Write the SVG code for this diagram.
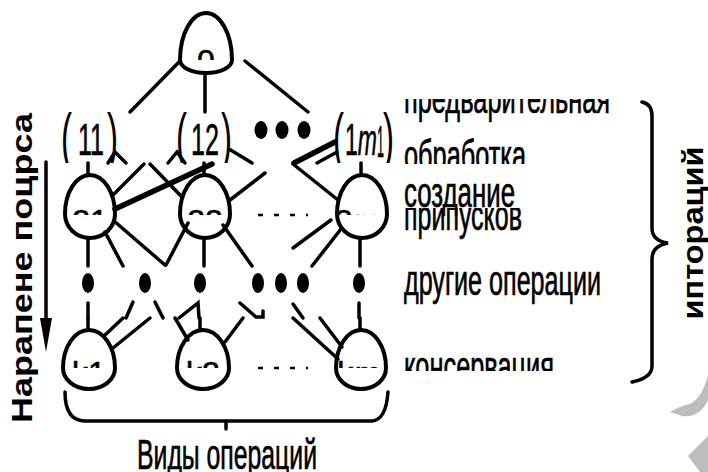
<svg xmlns="http://www.w3.org/2000/svg" width="708" height="472" viewBox="0 0 708 472">
<style>
.ln{stroke:#000;stroke-width:3.5;fill:none;stroke-linecap:round}
.thk{stroke:#000;stroke-width:5.5;fill:none;stroke-linecap:round}
.egg{stroke:#000;stroke-width:4;fill:none}
.dot{fill:#000}
.lbl{font-family:"Liberation Sans",Arial,sans-serif;font-size:42px;fill:#000;stroke:#000;stroke-width:0.7}
.num{font-family:"Liberation Sans",Arial,sans-serif;font-size:45px;fill:#000;stroke:#000;stroke-width:0.6}
.par{font-family:"Liberation Sans",Arial,sans-serif;font-size:64px;fill:#000}
.in{font-family:"Liberation Sans",Arial,sans-serif;font-size:32px;fill:#000;text-anchor:middle;stroke:#000;stroke-width:0.6}
.vt{font-family:"Liberation Sans",Arial,sans-serif;font-weight:bold;font-size:29px;fill:#000;text-anchor:middle}
.dash{stroke:#000;stroke-width:2.5;stroke-dasharray:5 11;fill:none}
</style>
<defs>
<clipPath id="c60"><rect x="0" y="0" width="708" height="60"/></clipPath>
<clipPath id="cRow1"><rect x="0" y="112" width="708" height="51"/></clipPath>
<clipPath id="c215"><rect x="0" y="0" width="708" height="215"/></clipPath>
<clipPath id="c368"><rect x="0" y="0" width="708" height="368"/></clipPath>
<clipPath id="cPre"><rect x="0" y="99" width="708" height="30"/></clipPath>
<clipPath id="cObr"><rect x="0" y="0" width="708" height="164"/></clipPath>
<clipPath id="cPri"><rect x="0" y="208" width="708" height="40"/></clipPath>
<clipPath id="cKon"><rect x="0" y="0" width="708" height="371"/></clipPath>
</defs>
<rect width="708" height="472" fill="#fff"/>

<g id="n0">
<path class="egg" d="M180,60 A26,47 0 0 1 232,60 A26,13 0 0 1 180,60"/>
<text class="in" x="206" y="72" font-size="30" clip-path="url(#c60)">0</text>
</g>

<g id="n11" clip-path="url(#cRow1)">
<text class="par" x="61" y="159" textLength="11" lengthAdjust="spacingAndGlyphs">(</text>
<text class="num" x="78" y="155" textLength="26" lengthAdjust="spacingAndGlyphs">11</text>
<text class="par" x="107" y="159" textLength="11" lengthAdjust="spacingAndGlyphs">)</text>
</g>
<g id="n12" clip-path="url(#cRow1)">
<text class="par" x="176" y="159" textLength="11" lengthAdjust="spacingAndGlyphs">(</text>
<text class="num" x="191" y="155" textLength="28" lengthAdjust="spacingAndGlyphs">12</text>
<text class="par" x="221" y="159" textLength="11" lengthAdjust="spacingAndGlyphs">)</text>
</g>
<g id="n1dots">
<ellipse class="dot" cx="261" cy="130" rx="6.5" ry="9"/>
<ellipse class="dot" cx="282" cy="130" rx="6.5" ry="9"/>
<ellipse class="dot" cx="304" cy="130" rx="6.5" ry="9"/>
</g>
<g id="n1m" clip-path="url(#cRow1)">
<text class="par" x="333" y="159" textLength="11" lengthAdjust="spacingAndGlyphs">(</text>
<text class="num" x="345" y="155" textLength="32" lengthAdjust="spacingAndGlyphs">1<tspan font-style="italic">m</tspan></text>
<text class="num" x="377" y="157" font-size="20" textLength="7" lengthAdjust="spacingAndGlyphs">1</text>
<text class="par" x="383" y="159" textLength="11" lengthAdjust="spacingAndGlyphs">)</text>
</g>

<g id="n21">
<path class="egg" d="M65,214 A25,39 0 0 1 115,214 A25,24 0 0 1 65,214"/>
<text class="in" x="90" y="232" clip-path="url(#c215)">21</text>
</g>
<g id="n22">
<path class="egg" d="M180,214 A25,39 0 0 1 230,214 A25,24 0 0 1 180,214"/>
<text class="in" x="205" y="232" clip-path="url(#c215)">22</text>
</g>
<g id="n2m">
<path class="egg" d="M337,214 A25,39 0 0 1 387,214 A25,24 0 0 1 337,214"/>
<text class="in" x="362" y="232" clip-path="url(#c215)">2<tspan font-style="italic">m</tspan><tspan font-size="18">2</tspan></text>
</g>

<g id="n3dots">
<ellipse class="dot" cx="88" cy="283" rx="6" ry="10"/>
<ellipse class="dot" cx="145" cy="283" rx="6" ry="10"/>
<ellipse class="dot" cx="200" cy="283" rx="6" ry="10"/>
<ellipse class="dot" cx="258" cy="283" rx="6" ry="10"/>
<ellipse class="dot" cx="281" cy="283" rx="6" ry="10"/>
<ellipse class="dot" cx="303" cy="283" rx="6" ry="10"/>
<ellipse class="dot" cx="359" cy="283" rx="6" ry="10"/>
</g>

<g id="nk1">
<path class="egg" d="M63,368 A26,38 0 0 1 115,368 A26,21 0 0 1 63,368"/>
<text class="in" x="89" y="384" clip-path="url(#c368)">k1</text>
</g>
<g id="nk2">
<path class="egg" d="M177,368 A26,38 0 0 1 229,368 A26,21 0 0 1 177,368"/>
<text class="in" x="203" y="384" clip-path="url(#c368)">k2</text>
</g>
<g id="nkm">
<path class="egg" d="M336,368 A25,38 0 0 1 386,368 A25,21 0 0 1 336,368"/>
<text class="in" x="363" y="384" clip-path="url(#c368)">k<tspan font-style="italic">m</tspan><tspan font-size="18">k</tspan></text>
</g>

<g id="connectors">
<line class="ln" x1="180" y1="61" x2="130" y2="112"/>
<line class="ln" x1="205" y1="73" x2="205" y2="112"/>
<line class="ln" x1="245" y1="61" x2="308" y2="112"/>

<path class="ln" d="M108,163 L115,152 L126,163"/>
<path class="ln" d="M168,163 L177,152 L185,163"/>
<line class="ln" x1="229" y1="149" x2="252" y2="163"/>
<line class="thk" x1="335" y1="142" x2="294" y2="163"/>
<line class="ln" x1="337" y1="152" x2="317" y2="163"/>

<line class="ln" x1="88" y1="163" x2="88" y2="175"/>
<line class="ln" x1="144" y1="164" x2="114" y2="194"/>
<line class="thk" x1="115" y1="209" x2="212" y2="164"/>
<line class="ln" x1="150" y1="164" x2="182" y2="197"/>
<line class="ln" x1="204" y1="163" x2="204" y2="175"/>
<line class="ln" x1="230" y1="200" x2="265" y2="173"/>
<line class="ln" x1="293" y1="164" x2="338" y2="200"/>
<line class="ln" x1="361" y1="163" x2="361" y2="175"/>
<line class="dash" x1="258" y1="215" x2="308" y2="215"/>

<line class="ln" x1="88" y1="238" x2="88" y2="266"/>
<line class="ln" x1="105" y1="232" x2="123" y2="266"/>
<line class="ln" x1="114" y1="221" x2="165" y2="265"/>
<line class="ln" x1="188" y1="223" x2="166" y2="265"/>
<line class="ln" x1="204" y1="238" x2="204" y2="266"/>
<line class="ln" x1="223" y1="225" x2="252" y2="266"/>
<line class="ln" x1="331" y1="220" x2="293" y2="248"/>
<line class="ln" x1="341" y1="229" x2="312" y2="266"/>
<line class="ln" x1="360" y1="238" x2="360" y2="266"/>

<line class="ln" x1="88" y1="303" x2="88" y2="318"/>
<line class="ln" x1="133" y1="302" x2="126" y2="318"/>
<line class="ln" x1="155" y1="302" x2="163" y2="318"/>
<path class="ln" d="M179,318 L198,303 L199,318"/>
<path class="ln" d="M240,303 L256,317 L263,317 L263,311"/>
<line class="ln" x1="293" y1="304" x2="303" y2="318"/>
<line class="ln" x1="359" y1="303" x2="359" y2="318"/>

<line class="ln" x1="88" y1="318" x2="88" y2="330"/>
<line class="ln" x1="123" y1="318" x2="104" y2="336"/>
<line class="ln" x1="150" y1="318" x2="113" y2="348"/>
<line class="ln" x1="175" y1="318" x2="188" y2="340"/>
<line class="ln" x1="200" y1="318" x2="200" y2="330"/>
<line class="ln" x1="243" y1="318" x2="225" y2="342"/>
<line class="ln" x1="293" y1="318" x2="338" y2="359"/>
<line class="ln" x1="320" y1="318" x2="342" y2="347"/>
<line class="ln" x1="360" y1="318" x2="360" y2="330"/>
<line class="dash" x1="258" y1="368" x2="308" y2="368"/>
</g>

<g id="labels">
<text class="lbl" x="404" y="113" textLength="206" lengthAdjust="spacingAndGlyphs" clip-path="url(#cPre)">предварительная</text>
<text class="lbl" x="404" y="170" textLength="122" lengthAdjust="spacingAndGlyphs" clip-path="url(#cObr)">обработка</text>
<text class="lbl" x="404" y="207" textLength="111" lengthAdjust="spacingAndGlyphs">создание</text>
<text class="lbl" x="404" y="230" textLength="118" lengthAdjust="spacingAndGlyphs" clip-path="url(#cPri)">припусков</text>
<text class="lbl" x="404" y="295" textLength="197" lengthAdjust="spacingAndGlyphs">другие операции</text>
<text class="lbl" x="404" y="381" textLength="150" lengthAdjust="spacingAndGlyphs" clip-path="url(#cKon)">консервация</text>
<text class="lbl" x="137" y="469" textLength="180" lengthAdjust="spacingAndGlyphs">Виды операций</text>
</g>

<g id="left-axis">
<line class="ln" x1="46" y1="162" x2="46" y2="322" stroke-width="3"/>
<polygon points="40,318 52,318 46,352" fill="#000"/>
<text class="vt" transform="translate(32,268) rotate(-90)" textLength="310" lengthAdjust="spacingAndGlyphs">Нарапене поцрса</text>
</g>

<g id="right-brace">
<path class="ln" d="M642,102 Q652,104 652,116 L652,228 Q652,241 668,243 Q652,246 652,259 L652,366 Q652,378 632,382" stroke-width="3"/>
<text class="vt" transform="translate(703,233) rotate(-90)" textLength="173" lengthAdjust="spacingAndGlyphs">иптораций</text>
</g>

<g id="bottom-brace">
<path class="ln" d="M65,392 Q65,420 84,421 L372,421 Q386,420 388,392" stroke-width="3"/>
<line class="ln" x1="226" y1="421" x2="226" y2="429" stroke-width="3"/>
</g>

<g id="watermark" fill="#bdbdbd">
<path d="M708,375 L708,400 Q700,418 682,416 L670,412 Q680,406 690,404 Q702,398 708,375 Z"/>
<polygon points="688,456 708,436 708,472 700,472"/>
</g>
</svg>
